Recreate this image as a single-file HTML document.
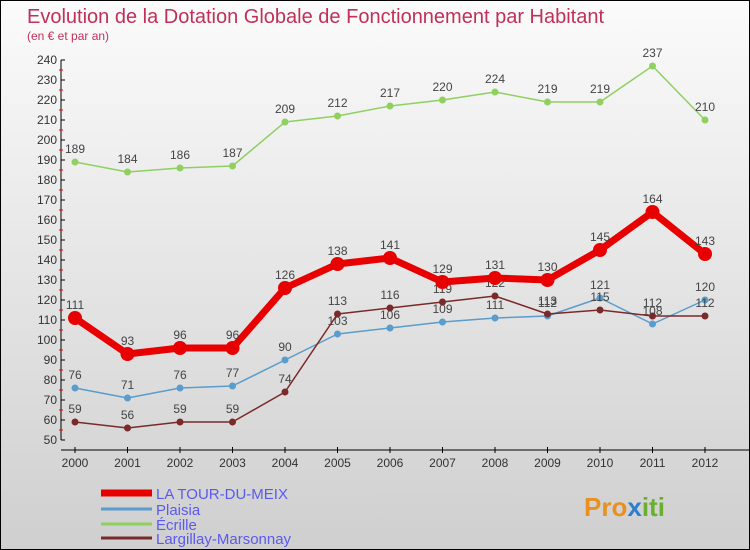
<!DOCTYPE html>
<html><head><meta charset="utf-8"><style>
body{margin:0}
#c{position:relative;width:748px;height:548px;border:1px solid #000;background:linear-gradient(#fbfbfb,#cfcfcf);font-family:"Liberation Sans",sans-serif;overflow:hidden}
</style></head><body>
<div id="c">
<svg id="s" width="748" height="548" style="position:absolute;left:0;top:0">
<text x="26" y="22" font-size="20" fill="#c0305a">Evolution de la Dotation Globale de Fonctionnement par Habitant</text>
<text x="26" y="39" font-size="12" fill="#c0305a">(en € et par an)</text>
<text x="583" y="515" font-size="26" font-weight="bold" fill="#e89020">Pro<tspan fill="#2a7fd0">x</tspan><tspan fill="#6ab030">iti</tspan></text>
</svg>
</div>
<script>
const years=[2000,2001,2002,2003,2004,2005,2006,2007,2008,2009,2010,2011,2012];
const tour=[111,93,96,96,126,138,141,129,131,130,145,164,143];
const plaisia=[76,71,76,77,90,103,106,109,111,112,121,108,120];
const ecrille=[189,184,186,187,209,212,217,220,224,219,219,237,210];
const largillay=[59,56,59,59,74,113,116,119,122,113,115,112,112];
const yTicks=[50,60,70,80,90,100,110,120,130,140,150,160,170,180,190,200,210,220,230,240];
const seriesNames=["LA TOUR-DU-MEIX","Plaisia","Écrille","Largillay-Marsonnay"];
const NS="http://www.w3.org/2000/svg";
const s=document.getElementById('s');
const X=i=>74+i*52.5;
const Y=v=>439-(v-50)*2;
function el(t,a,p){const e=document.createElementNS(NS,t);for(const k in a)e.setAttribute(k,a[k]);(p||s).appendChild(e);return e;}
// axes
let ax=el('line',{x1:60,y1:Y(240),x2:60,y2:Y(50),stroke:'#000'});


yTicks.forEach(v=>{
 el('line',{x1:60,y1:Y(v),x2:64,y2:Y(v),stroke:'#000'});
 if(v<240)el('line',{x1:58,y1:Y(v+5),x2:62,y2:Y(v+5),stroke:'#e00'});
 const t=el('text',{x:56,y:Y(v)+4,'font-size':12,fill:'#333','text-anchor':'end'});t.textContent=v;
 
 
});
let xa=el('line',{x1:60,y1:449,x2:748,y2:449,stroke:'#000'});


years.forEach((y,i)=>{
 el('line',{x1:X(i),y1:446,x2:X(i),y2:452,stroke:'#000'});
 const t=el('text',{x:X(i),y:466,'font-size':12,fill:'#333','text-anchor':'middle'});t.textContent=y;
 
 
});
function series(data,color,w,r,name){
 const g=el('g',{});
 
 
 el('polyline',{points:data.map((v,i)=>X(i)+','+Y(v)).join(' '),fill:'none',stroke:color,'stroke-width':w,'stroke-linejoin':'round'},g);
 data.forEach((v,i)=>{
  const c=el('circle',{cx:X(i),cy:Y(v),r:r,fill:color},g);
  
  
  const t=el('text',{x:X(i),y:Y(v)-9,'font-size':12,fill:'#444','text-anchor':'middle'},g);t.textContent=v;
  
  
 });
}
series(ecrille,'#8fd060',1.5,3.5,'ecrille-series');
series(plaisia,'#5a9ccc',1.5,3.5,'plaisia-series');
series(largillay,'#7a2a2a',1.5,3.5,'largillay-series');
series(tour,'#e80000',7,7,'tour-du-meix-series');
const lc=['#e80000','#5a9ccc','#8fd060','#7a2a2a'],lw=[7,3,3,3],ly=[492,508,523,537];
seriesNames.forEach((n,i)=>{
 const l=el('line',{x1:100,y1:ly[i],x2:151,y2:ly[i],stroke:lc[i],'stroke-width':lw[i]});
 
 
 const t=el('text',{x:155,y:ly[i]+6,'font-size':15,fill:'#5a5af0'});t.textContent=n;
 
 
});
</script>
</body></html>
